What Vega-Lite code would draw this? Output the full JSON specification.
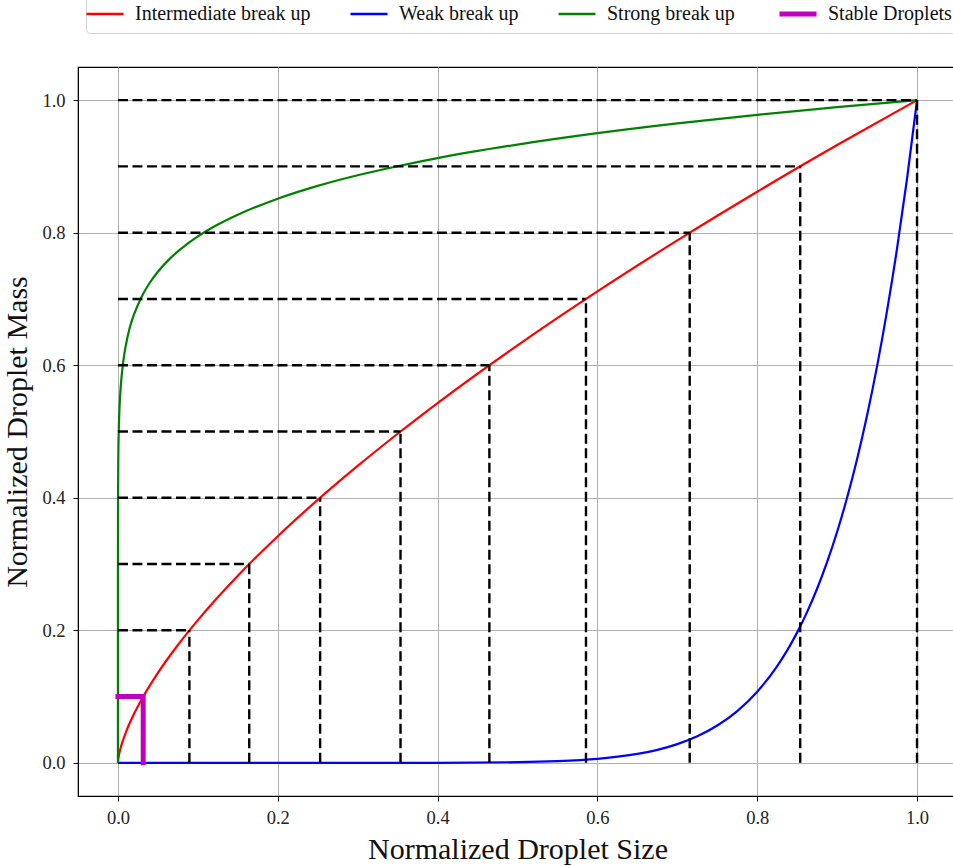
{
  "$schema": "https://vega.github.io/schema/vega-lite/v6.json",
  "width": 879,
  "height": 729,
  "autosize": "none",
  "padding": {"left": 78, "top": 67, "right": 0, "bottom": 70},
  "background": "white",
  "config": {
    "view": {"stroke": "black", "strokeWidth": 1.2},
    "font": "Liberation Serif",
    "axis": {
      "labelFont": "Liberation Serif",
      "titleFont": "Liberation Serif",
      "labelFontSize": 18.5,
      "titleFontSize": 30,
      "titleFontWeight": "normal",
      "labelColor": "#222",
      "titleColor": "#111",
      "domainColor": "black",
      "tickColor": "black",
      "tickSize": 5,
      "gridColor": "#b0b0b0",
      "gridWidth": 1,
      "grid": true
    }
  },
  "datasets": {
    "curves": [
      {"s": "Intermediate break up", "x": 0, "y": 0},
      {"s": "Intermediate break up", "x": 0.0002, "y": 0.0034},
      {"s": "Intermediate break up", "x": 0.001, "y": 0.01},
      {"s": "Intermediate break up", "x": 0.003, "y": 0.0208},
      {"s": "Intermediate break up", "x": 0.006, "y": 0.033},
      {"s": "Intermediate break up", "x": 0.01, "y": 0.0464},
      {"s": "Intermediate break up", "x": 0.02, "y": 0.0737},
      {"s": "Intermediate break up", "x": 0.03, "y": 0.0965},
      {"s": "Intermediate break up", "x": 0.05, "y": 0.1357},
      {"s": "Intermediate break up", "x": 0.075, "y": 0.1778},
      {"s": "Intermediate break up", "x": 0.1, "y": 0.2154},
      {"s": "Intermediate break up", "x": 0.15, "y": 0.2823},
      {"s": "Intermediate break up", "x": 0.2, "y": 0.342},
      {"s": "Intermediate break up", "x": 0.25, "y": 0.3969},
      {"s": "Intermediate break up", "x": 0.3, "y": 0.4481},
      {"s": "Intermediate break up", "x": 0.35, "y": 0.4966},
      {"s": "Intermediate break up", "x": 0.4, "y": 0.5429},
      {"s": "Intermediate break up", "x": 0.5, "y": 0.63},
      {"s": "Intermediate break up", "x": 0.6, "y": 0.7114},
      {"s": "Intermediate break up", "x": 0.7, "y": 0.7884},
      {"s": "Intermediate break up", "x": 0.8, "y": 0.8618},
      {"s": "Intermediate break up", "x": 0.9, "y": 0.9322},
      {"s": "Intermediate break up", "x": 1.0, "y": 1.0},
      {"s": "Weak break up", "x": 0, "y": 0},
      {"s": "Weak break up", "x": 0.3, "y": 0.000006},
      {"s": "Weak break up", "x": 0.4, "y": 0.000105},
      {"s": "Weak break up", "x": 0.5, "y": 0.000977},
      {"s": "Weak break up", "x": 0.55, "y": 0.00253},
      {"s": "Weak break up", "x": 0.6, "y": 0.00605},
      {"s": "Weak break up", "x": 0.65, "y": 0.01346},
      {"s": "Weak break up", "x": 0.675, "y": 0.0196},
      {"s": "Weak break up", "x": 0.7, "y": 0.02825},
      {"s": "Weak break up", "x": 0.725, "y": 0.0401},
      {"s": "Weak break up", "x": 0.75, "y": 0.0563},
      {"s": "Weak break up", "x": 0.775, "y": 0.0782},
      {"s": "Weak break up", "x": 0.8, "y": 0.1074},
      {"s": "Weak break up", "x": 0.825, "y": 0.1461},
      {"s": "Weak break up", "x": 0.8375, "y": 0.1697},
      {"s": "Weak break up", "x": 0.85, "y": 0.1969},
      {"s": "Weak break up", "x": 0.8625, "y": 0.2278},
      {"s": "Weak break up", "x": 0.875, "y": 0.2631},
      {"s": "Weak break up", "x": 0.8875, "y": 0.3032},
      {"s": "Weak break up", "x": 0.9, "y": 0.3487},
      {"s": "Weak break up", "x": 0.9125, "y": 0.4003},
      {"s": "Weak break up", "x": 0.925, "y": 0.4586},
      {"s": "Weak break up", "x": 0.9375, "y": 0.5245},
      {"s": "Weak break up", "x": 0.95, "y": 0.5987},
      {"s": "Weak break up", "x": 0.9625, "y": 0.6824},
      {"s": "Weak break up", "x": 0.975, "y": 0.7763},
      {"s": "Weak break up", "x": 0.9875, "y": 0.8818},
      {"s": "Weak break up", "x": 1.0, "y": 1.0},
      {"s": "Strong break up", "x": 0, "y": 0},
      {"s": "Strong break up", "x": 0.0000000001, "y": 0.1},
      {"s": "Strong break up", "x": 0.00000001, "y": 0.158},
      {"s": "Strong break up", "x": 0.000001, "y": 0.251},
      {"s": "Strong break up", "x": 0.00001, "y": 0.316},
      {"s": "Strong break up", "x": 0.0001, "y": 0.398},
      {"s": "Strong break up", "x": 0.0005, "y": 0.4677},
      {"s": "Strong break up", "x": 0.001, "y": 0.501},
      {"s": "Strong break up", "x": 0.002, "y": 0.5371},
      {"s": "Strong break up", "x": 0.003, "y": 0.5594},
      {"s": "Strong break up", "x": 0.0045, "y": 0.5821},
      {"s": "Strong break up", "x": 0.006, "y": 0.5995},
      {"s": "Strong break up", "x": 0.008, "y": 0.6172},
      {"s": "Strong break up", "x": 0.01, "y": 0.631},
      {"s": "Strong break up", "x": 0.015, "y": 0.6576},
      {"s": "Strong break up", "x": 0.02, "y": 0.6762},
      {"s": "Strong break up", "x": 0.03, "y": 0.7042},
      {"s": "Strong break up", "x": 0.04, "y": 0.7248},
      {"s": "Strong break up", "x": 0.05, "y": 0.7411},
      {"s": "Strong break up", "x": 0.065, "y": 0.7609},
      {"s": "Strong break up", "x": 0.08, "y": 0.7767},
      {"s": "Strong break up", "x": 0.1, "y": 0.7943},
      {"s": "Strong break up", "x": 0.125, "y": 0.8123},
      {"s": "Strong break up", "x": 0.15, "y": 0.8272},
      {"s": "Strong break up", "x": 0.2, "y": 0.8513},
      {"s": "Strong break up", "x": 0.25, "y": 0.8706},
      {"s": "Strong break up", "x": 0.3, "y": 0.8866},
      {"s": "Strong break up", "x": 0.35, "y": 0.9003},
      {"s": "Strong break up", "x": 0.4, "y": 0.9125},
      {"s": "Strong break up", "x": 0.5, "y": 0.933},
      {"s": "Strong break up", "x": 0.6, "y": 0.9502},
      {"s": "Strong break up", "x": 0.7, "y": 0.965},
      {"s": "Strong break up", "x": 0.8, "y": 0.9779},
      {"s": "Strong break up", "x": 0.9, "y": 0.9895},
      {"s": "Strong break up", "x": 1.0, "y": 1.0}
    ],
    "guides": [
      {"xi": 0.0894, "yi": 0.2, "x0": 0, "y0": 0},
      {"xi": 0.1643, "yi": 0.3, "x0": 0, "y0": 0},
      {"xi": 0.253, "yi": 0.4, "x0": 0, "y0": 0},
      {"xi": 0.3536, "yi": 0.5, "x0": 0, "y0": 0},
      {"xi": 0.4648, "yi": 0.6, "x0": 0, "y0": 0},
      {"xi": 0.5857, "yi": 0.7, "x0": 0, "y0": 0},
      {"xi": 0.7155, "yi": 0.8, "x0": 0, "y0": 0},
      {"xi": 0.8538, "yi": 0.9, "x0": 0, "y0": 0},
      {"xi": 1.0, "yi": 1.0, "x0": 0, "y0": 0}
    ],
    "stable": [
      {"s": "Stable Droplets", "x": 0, "y": 0.1, "o": 1},
      {"s": "Stable Droplets", "x": 0.0316, "y": 0.1, "o": 2},
      {"s": "Stable Droplets", "x": 0.0316, "y": 0, "o": 3}
    ]
  },
  "layer": [
    {
      "data": {"name": "curves"},
      "mark": {"type": "line", "strokeWidth": 2.2, "clip": true, "interpolate": "monotone"},
      "encoding": {
        "x": {
          "field": "x", "type": "quantitative",
          "scale": {"domain": [-0.05, 1.05], "nice": false, "zero": false},
          "axis": {"values": [0, 0.2, 0.4, 0.6, 0.8, 1.0], "format": ".1f", "title": "Normalized Droplet Size", "labelPadding": 7, "titlePadding": 8}
        },
        "y": {
          "field": "y", "type": "quantitative",
          "scale": {"domain": [-0.05, 1.05], "nice": false, "zero": false},
          "axis": {"values": [0, 0.2, 0.4, 0.6, 0.8, 1.0], "format": ".1f", "title": "Normalized Droplet Mass", "labelPadding": 8, "titlePadding": 9}
        },
        "color": {
          "field": "s", "type": "nominal",
          "scale": {
            "domain": ["Intermediate break up", "Weak break up", "Strong break up", "Stable Droplets"],
            "range": ["#ff0000", "#0000ff", "#008000", "#bf00bf"]
          },
          "legend": {
            "orient": "none",
            "legendX": 8,
            "legendY": -72,
            "direction": "horizontal",
            "title": null,
            "symbolType": "stroke",
            "symbolSize": 1369,
            "symbolStrokeWidth": 2.5,
            "labelFont": "Liberation Serif",
            "labelFontSize": 20,
            "labelColor": "#111",
            "labelOffset": 20,
            "columnPadding": 34,
            "padding": 9,
            "strokeColor": "#d0d0d0",
            "fillColor": "white",
            "cornerRadius": 4,
            "labelLimit": 400,
            "encode": {
              "symbols": {"update": {"strokeWidth": {"signal": "datum.value === 'Stable Droplets' ? 5 : 2.5"}}}
            }
          }
        },
        "detail": {"field": "s"}
      }
    },
    {
      "data": {"name": "guides"},
      "mark": {"type": "rule", "color": "black", "strokeWidth": 2.4, "strokeDash": [10, 4.5]},
      "encoding": {
        "x": {"field": "x0", "type": "quantitative"},
        "x2": {"field": "xi"},
        "y": {"field": "yi", "type": "quantitative"}
      }
    },
    {
      "data": {"name": "guides"},
      "mark": {"type": "rule", "color": "black", "strokeWidth": 2.4, "strokeDash": [10, 4.5]},
      "encoding": {
        "x": {"field": "xi", "type": "quantitative"},
        "y": {"field": "y0", "type": "quantitative"},
        "y2": {"field": "yi"}
      }
    },
    {
      "data": {"name": "stable"},
      "mark": {"type": "line", "strokeWidth": 5, "strokeCap": "square", "strokeJoin": "miter"},
      "encoding": {
        "x": {"field": "x", "type": "quantitative"},
        "y": {"field": "y", "type": "quantitative"},
        "order": {"field": "o", "type": "quantitative"},
        "color": {"field": "s", "type": "nominal"}
      }
    }
  ]
}
